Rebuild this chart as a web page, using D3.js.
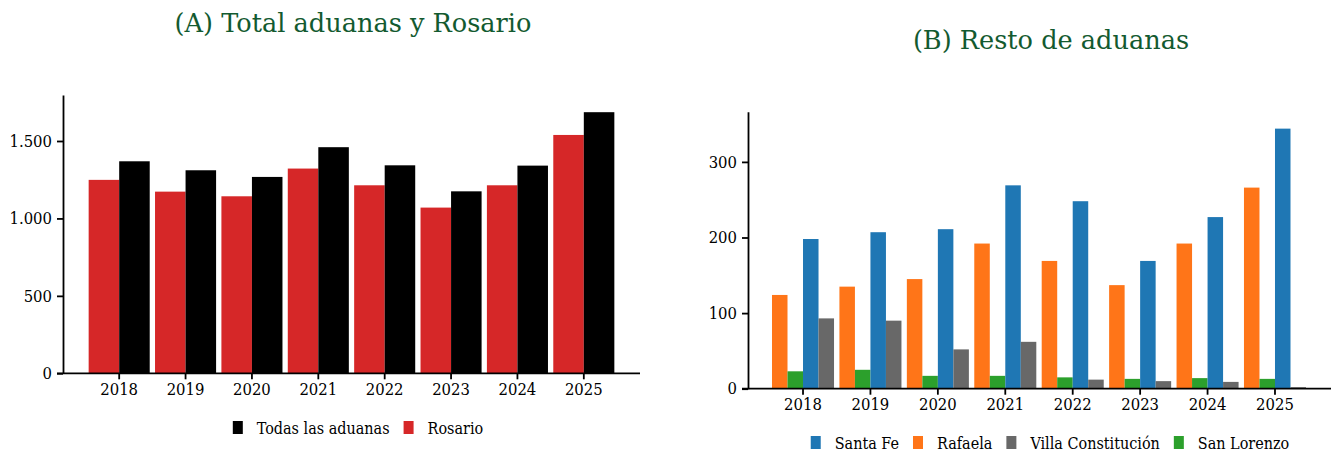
<!DOCTYPE html>
<head>
    <meta charset=utf-8>
    <title>Aduanas</title>
    <script src="https://d3js.org/d3.v7.min.js"></script>
    <style>
        body { margin: 0; background: #ffffff; }
        text { font-family: "DejaVu Serif Condensed", "DejaVu Serif", serif; fill: #000000; }
        .title { font-family: "DejaVu Serif", serif; font-size: 25.6px; fill: #135a30; }
        .axis text { font-size: 16.5px; }
        .axis line, .axis path { stroke: #000000; stroke-width: 1.8; }
        .legend text { font-size: 16px; }
    </style>
</head>
<body>
<div id="chart"></div>
<script type="text/javascript">
    // data
    var years = ["2018", "2019", "2020", "2021", "2022", "2023", "2024", "2025"];
    var todas = [1369, 1311, 1268, 1460, 1343, 1175, 1341, 1686];
    var rosario = [1249, 1173, 1143, 1322, 1214, 1070, 1214, 1539];

    var santaFe = [198, 207, 211, 269, 248, 169, 227, 344];
    var rafaela = [124, 135, 145, 192, 169, 137, 192, 266];
    var villaConst = [93, 90, 52, 62, 12, 10, 9, 2];
    var sanLorenzo = [23, 25, 17, 17, 15, 13, 14, 13];

    var ticksA = [0, 500, 1000, 1500],
        ticksB = [0, 100, 200, 300];

    var seriesA = [
        {name: "Rosario", values: rosario, color: "#d62728"},
        {name: "Todas las aduanas", values: todas, color: "#000000"}
    ];
    var legendA = ["Todas las aduanas", "Rosario"];

    var seriesB = [
        {name: "Rafaela", values: rafaela, color: "#ff7518"},
        {name: "San Lorenzo", values: sanLorenzo, color: "#2ca02c"},
        {name: "Santa Fe", values: santaFe, color: "#1f77b4"},
        {name: "Villa Constitución", values: villaConst, color: "#686868"}
    ];
    var legendB = ["Santa Fe", "Rafaela", "Villa Constitución", "San Lorenzo"];

    var loc = d3.formatLocale({decimal: ",", thousands: ".", grouping: [3], currency: ["$", ""]});
    var fmt = loc.format(",");

    var svg = d3.select("#chart")
        .append("svg")
        .attr("width", 1331)
        .attr("height", 452);

    function panel(cfg) {
        var x = d3.scaleBand().domain(years).range(cfg.band).paddingInner(0.08).paddingOuter(0.04);
        var y = d3.scaleLinear().domain([0, cfg.ymax]).range([cfg.y0, cfg.ytop]);
        var sub = d3.scaleBand().domain(cfg.series.map(s => s.name)).range([0, x.bandwidth()]);

        var g = svg.append("g");

        cfg.series.forEach(s => {
            g.append("g")
                .selectAll("rect")
                .data(s.values)
                .enter()
                .append("rect")
                .attr("x", (d, i) => x(years[i]) + sub(s.name))
                .attr("width", sub.bandwidth())
                .attr("y", d => y(d))
                .attr("height", d => y(0) - y(d))
                .attr("fill", s.color);
        });

        // axes
        var ax = g.append("g")
            .attr("class", "axis")
            .attr("transform", "translate(0," + y(0) + ")")
            .call(d3.axisBottom(x).tickSize(6).tickPadding(4).tickSizeOuter(0));
        ax.attr("font-family", null).attr("font-size", null);
        ax.select(".domain").remove();
        ax.append("line")
            .attr("x1", cfg.xline[0]).attr("x2", cfg.xline[1])
            .attr("y1", 0).attr("y2", 0);

        var ay = g.append("g")
            .attr("class", "axis")
            .attr("transform", "translate(" + cfg.yaxisX + ",0)")
            .call(d3.axisLeft(y).tickValues(cfg.ticks).tickFormat(fmt).tickSize(6).tickPadding(5).tickSizeOuter(0));
        ay.attr("font-family", null).attr("font-size", null);

        // title
        svg.append("text")
            .attr("class", "title")
            .attr("x", cfg.title[1])
            .attr("y", cfg.title[2])
            .attr("text-anchor", "middle")
            .text(cfg.title[0]);

        // legend
        var lg = svg.append("g").attr("class", "legend");
        var cx = 0;
        cfg.legend.forEach(name => {
            var s = cfg.series.find(d => d.name === name);
            var it = lg.append("g").attr("transform", "translate(" + cx + ",0)");
            it.append("rect").attr("x", 0).attr("y", -13).attr("width", 10).attr("height", 13).attr("fill", s.color);
            var t = it.append("text").attr("x", 24).attr("y", 0).text(name);
            cx += 24 + t.node().getComputedTextLength() + 14;
        });
        var w = cx - 14;
        lg.attr("transform", "translate(" + (cfg.legendPos[0] - w / 2) + "," + cfg.legendPos[1] + ")");
    }

    panel({
        series: seriesA, legend: legendA, ticks: ticksA,
        band: [86, 617], y0: 373.3, ytop: 95, ymax: 1797,
        xline: [57, 640], yaxisX: 63,
        title: ["(A) Total aduanas y Rosario", 353, 32],
        legendPos: [358, 434]
    });

    panel({
        series: seriesB, legend: legendB, ticks: ticksB,
        band: [769.3, 1308.7], y0: 388.7, ytop: 111.7, ymax: 366.4,
        xline: [742, 1331], yaxisX: 748,
        title: ["(B) Resto de aduanas", 1051, 48.5],
        legendPos: [1050, 449]
    });
</script>
</body>
